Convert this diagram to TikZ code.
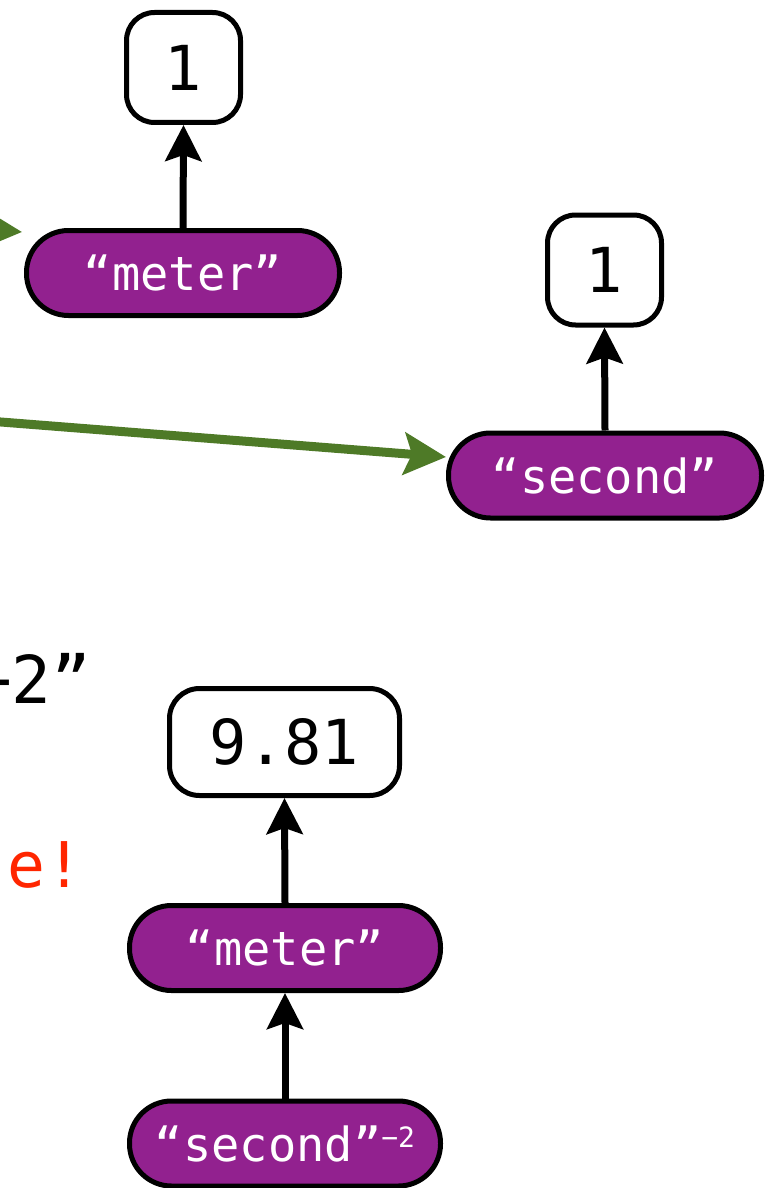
\documentclass[tikz,border=0pt]{standalone}
\usepackage{fontspec}
\setmonofont{DejaVu Sans Mono}
\usetikzlibrary{arrows.meta}
\definecolor{pill}{RGB}{146,33,143}
\definecolor{grn}{RGB}{78,122,39}
\definecolor{redtxt}{RGB}{255,38,0}
\begin{document}
\begin{tikzpicture}[x=1pt,y=-1pt,
  numbox/.style={draw=black, line width=5pt, fill=white, rounded corners=28pt,
    minimum width=114pt, minimum height=110pt, inner sep=0pt,
    font=\ttfamily\fontsize{62}{62}\selectfont},
  strpill/.style={draw=black, line width=5pt, fill=pill, text=white, rounded corners=42pt,
    minimum width=313pt, minimum height=85pt, inner sep=0pt,
    font=\ttfamily\fontsize{47}{47}\selectfont},
  up/.style={draw=black, line width=7pt, -{Stealth[length=36pt,width=36pt,inset=6pt]}},
  grnarrow/.style={draw=grn, line width=9pt, -{Stealth[length=42pt,width=42pt,inset=8pt]}},
]
\useasboundingbox (0,0) rectangle (766,1188);

% top-left group
\node[numbox] (oneA) at (183.5,67.5) {1};
\node[strpill] (meterA) at (183,273) {“meter”};
% right group
\node[numbox] (oneB) at (604.5,270) {1};
\node[strpill] (secondA) at (605,475.5) {“second”};
% bottom group
\node[numbox, minimum width=230pt, minimum height=107pt, rounded corners=30pt] (num) at (284.5,742) {9.81};
\node[strpill, minimum width=311pt] (meterB) at (285,948) {“meter”};
\node[strpill, minimum width=311pt] (secondB) at (285,1143.5) {“second”\raisebox{14pt}{\fontsize{28}{28}\selectfont −2}};

% vertical arrows
\draw[up] (meterA.north) -- (oneA.south);
\draw[up] (secondA.north) -- (oneB.south);
\draw[up] (meterB.north) -- (num.south);
\draw[up] (secondB.north) -- (meterB.south);

% green arrows coming from the left
\coordinate (srcA) at (-200,215);
\coordinate (tipA) at (22,232);
\draw[grnarrow] (srcA) -- (tipA);
\coordinate (srcB) at (-50,418);
\coordinate (tipB) at (446,457);
\draw[grnarrow] (srcB) -- (tipB);

% partially visible texts at the left edge
\node[anchor=base west, inner sep=0pt, font=\ttfamily\fontsize{66}{66}\selectfont] (expo) at (-28,703) {−2”};
\node[anchor=base west, inner sep=0pt, text=redtxt, font=\ttfamily\fontsize{63}{63}\selectfont] (warn) at (7,887) {e!};
\end{tikzpicture}
\end{document}
